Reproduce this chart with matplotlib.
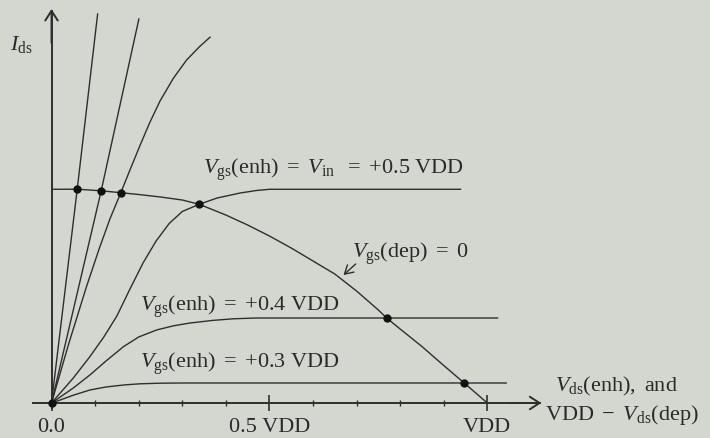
import matplotlib
matplotlib.use("Agg")
import matplotlib.pyplot as plt

# Drain current (arbitrary units) vs. drain voltage (fraction of VDD)
vgs03_x = [0.0, 0.02, 0.05, 0.088, 0.125, 0.165, 0.203, 0.25, 0.30, 1.045]
vgs03_y = [0.0, 0.03, 0.078, 0.13, 0.16, 0.18, 0.192, 0.198, 0.20, 0.20]

vgs04_x = [0.0, 0.02, 0.05, 0.088, 0.125, 0.165, 0.20, 0.241, 0.28, 0.318,
           0.37, 0.417, 0.47, 0.524, 1.025]
vgs04_y = [0.0, 0.06, 0.15, 0.28, 0.42, 0.563, 0.66, 0.73, 0.772, 0.80,
           0.826, 0.842, 0.85, 0.85, 0.85]

vgs05_x = [0.0, 0.02, 0.05, 0.088, 0.12, 0.15, 0.18, 0.21, 0.24, 0.27, 0.30,
           0.339, 0.38, 0.433, 0.47, 0.50, 0.94]
vgs05_y = [0.0, 0.10, 0.25, 0.463, 0.66, 0.87, 1.14, 1.40, 1.62, 1.795, 1.915,
           1.987, 2.05, 2.10, 2.125, 2.137, 2.137]

# steeper enhancement curves (higher gate voltages)
hi1_x = [0.0, 0.059, 0.106]
hi1_y = [0.0, 2.138, 3.897]
hi2_x = [0.0, 0.114, 0.2008]
hi2_y = [0.0, 2.122, 3.847]
hi3_x = [0.0, 0.04, 0.08, 0.11, 0.134, 0.159, 0.18, 0.203, 0.225, 0.249,
         0.28, 0.31, 0.34, 0.365]
hi3_y = [0.0, 0.60, 1.16, 1.55, 1.84, 2.103, 2.33, 2.575, 2.80, 3.02,
         3.25, 3.43, 3.565, 3.663]

# depletion load, Vgs(dep) = 0, plotted against VDD - Vds(dep)
dep_x = [0.0, 0.059, 0.114, 0.159, 0.20, 0.25, 0.30, 0.339, 0.40, 0.45, 0.50,
         0.55, 0.60, 0.65, 0.70, 0.75, 0.769, 0.80, 0.85, 0.90, 0.947, 1.0]
dep_y = [2.137, 2.138, 2.122, 2.103, 2.085, 2.06, 2.03, 1.987, 1.88, 1.78, 1.67,
         1.55, 1.42, 1.29, 1.12, 0.93, 0.85, 0.74, 0.565, 0.375, 0.20, 0.0]

# operating points (intersections)
op_x = [0.0, 0.059, 0.114, 0.159, 0.339, 0.769, 0.947]
op_y = [0.0, 2.138, 2.122, 2.103, 1.987, 0.85, 0.20]

xtick_pos = [0.0, 0.5, 1.0]
xtick_labels = ["0.0", "0.5 VDD", "VDD"]
xminor_pos = [0.1, 0.2, 0.3, 0.4, 0.6, 0.7, 0.8, 0.9]

BG = "#d4d6d0"
INK = "#2e2e2e"
TXT = "#2a2a2a"

plt.rcParams["font.family"] = ["Liberation Serif", "DejaVu Serif"]
plt.rcParams["mathtext.fontset"] = "custom"
plt.rcParams["mathtext.rm"] = "Liberation Serif"
plt.rcParams["mathtext.it"] = "Liberation Serif:italic"
plt.rcParams["mathtext.bf"] = "Liberation Serif:bold"

fig = plt.figure(figsize=(7.10, 4.38), dpi=100, facecolor=BG)
ax = fig.add_axes([0, 0, 1, 1], facecolor=BG)
ax.set_xlim(-0.1182, 1.5110)
ax.set_ylim(-0.35, 4.03)

lw = 1.0
for xs, ys in [(vgs03_x, vgs03_y), (vgs04_x, vgs04_y), (vgs05_x, vgs05_y),
               (hi1_x, hi1_y), (hi2_x, hi2_y), (hi3_x, hi3_y), (dep_x, dep_y)]:
    ax.plot(xs, ys, color=INK, lw=lw, solid_capstyle="butt",
            solid_joinstyle="round")

ax.plot(op_x, op_y, "o", color="#111111", ms=5, zorder=5)

# axes through the origin
for side in ["top", "right"]:
    ax.spines[side].set_visible(False)
ax.spines["bottom"].set_position(("data", 0))
ax.spines["left"].set_position(("data", 0))
ax.spines["bottom"].set_bounds(-0.0425, 1.12)
ax.spines["left"].set_bounds(-0.05, 3.92)
for side in ["bottom", "left"]:
    ax.spines[side].set_color(INK)
    ax.spines[side].set_linewidth(1.4)

fs = 16
ax.set_yticks([])
ax.set_xticks(xtick_pos)
ax.set_xticklabels(xtick_labels, fontsize=fs, color=TXT)
ax.set_xticks(xminor_pos, minor=True)
ax.tick_params(axis="x", which="major", direction="inout", length=12,
               width=1.2, color=INK, pad=5)
ax.tick_params(axis="x", which="minor", direction="inout", length=5,
               width=1.0, color=INK)

arrow = dict(arrowstyle="->,head_length=0.7,head_width=0.45", color=INK,
             lw=1.4, shrinkA=0, shrinkB=0, mutation_scale=10)
ax.annotate("", xy=(0, 3.94), xytext=(0, 3.6), arrowprops=arrow)
ax.annotate("", xy=(1.124, 0), xytext=(1.05, 0), arrowprops=arrow)

ax.text(-0.095, 3.53, r"$I_{\mathrm{ds}}$", fontsize=fs, color=TXT, va="baseline")
ax.text(0.3477, 2.29,
        r"$V_{\mathrm{gs}}\mathrm{(enh)}\ =\ V_{\mathrm{in}}\ \ =\ {+}0.5\ \mathrm{VDD}$",
        fontsize=fs, color=TXT, va="baseline")
ax.text(0.689, 1.447, r"$V_{\mathrm{gs}}\mathrm{(dep)}\ =\ 0$",
        fontsize=fs, color=TXT, va="baseline")
ax.text(0.203, 0.923, r"$V_{\mathrm{gs}}\mathrm{(enh)}\ =\ {+}0.4\ \mathrm{VDD}$",
        fontsize=fs, color=TXT, va="baseline")
ax.text(0.203, 0.347, r"$V_{\mathrm{gs}}\mathrm{(enh)}\ =\ {+}0.3\ \mathrm{VDD}$",
        fontsize=fs, color=TXT, va="baseline")
ax.text(1.155, 0.113, r"$V_{\mathrm{ds}}\mathrm{(enh),\ and}$",
        fontsize=fs, color=TXT, va="baseline")
ax.text(1.1326, -0.17, r"$\mathrm{VDD}\ -\ V_{\mathrm{ds}}\mathrm{(dep)}$",
        fontsize=fs, color=TXT, va="baseline")

ax.annotate("", xy=(0.670, 1.28), xytext=(0.698, 1.39),
            arrowprops=dict(arrowstyle="->,head_length=0.6,head_width=0.35",
                            color=INK, lw=1.0, shrinkA=0, shrinkB=0,
                            mutation_scale=10))

fig.savefig("out.png", dpi=100, facecolor=BG)
